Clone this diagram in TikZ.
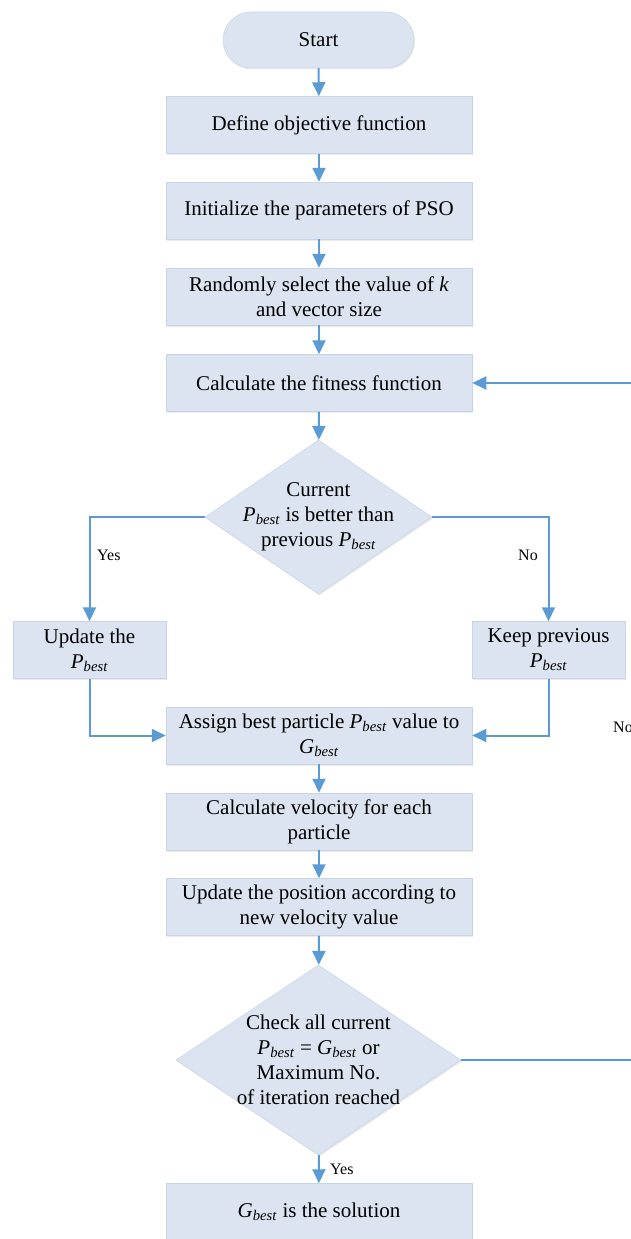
\documentclass[tikz,border=0pt]{standalone}
\usepackage{fontspec}
\setmainfont{Liberation Serif}
\usetikzlibrary{shapes.geometric,arrows.meta,shadows}
\definecolor{boxfill}{RGB}{219,228,240}
\definecolor{boxedge}{RGB}{200,212,230}
\definecolor{lineblue}{RGB}{91,155,213}
\newcommand\Pb{\textit{P}\textsubscript{\textit{best}}}
\newcommand\Gb{\textit{G}\textsubscript{\textit{best}}}
\begin{document}
\begin{tikzpicture}[x=1pt,y=-1pt,
  every node/.style={font=\fontsize{21}{25}\selectfont},
  proc/.style={rectangle,fill=boxfill,draw=boxedge,line width=0.5pt,
    minimum width=306pt,minimum height=57pt,inner sep=2pt,align=center,
    drop shadow={shadow xshift=1pt,shadow yshift=-1.5pt,fill=black!20,opacity=0.4}},
  sproc/.style={proc,minimum width=153pt},
  term/.style={proc,minimum width=191pt,minimum height=56pt,rounded corners=28pt},
  dia/.style={diamond,fill=boxfill,draw=boxedge,line width=0.5pt,inner sep=0pt,
    drop shadow={shadow xshift=1pt,shadow yshift=-1.5pt,fill=black!20,opacity=0.4}},
  dtext/.style={align=center,inner sep=0pt},
  lab/.style={font=\fontsize{16}{18}\selectfont,inner sep=0pt},
  conn/.style={draw=lineblue,line width=2pt,-{Triangle[width=13pt,length=14pt]}},
  plain/.style={draw=lineblue,line width=2pt}]
\useasboundingbox (0,0) rectangle (631,1239);
\clip (0,0) rectangle (631,1239);

\node[term] (start) at (318.5,40) {Start};
\node[proc] (def) at (319,125) {Define objective function};
\node[proc] (init) at (319,210.5) {Initialize the parameters of PSO};
\node[proc] (rand) at (319,296.5) {Randomly select the value of \textit{k}\\and vector size};
\node[proc] (calc) at (319,383) {Calculate the fitness function};
\node[dia,minimum width=227pt,minimum height=154pt] (d1) at (318.5,517) {};
\node[dtext] (d1t) at (d1) {Current\\\Pb{} is better than\\previous \Pb};
\node[sproc] (upd) at (89.5,650) {Update the\\\Pb};
\node[sproc] (keep) at (548.5,650) {Keep previous\\\Pb};
\node[proc] (assign) at (319,735.5) {Assign best particle \Pb{} value to\\\Gb};
\node[proc] (vel) at (319,821.5) {Calculate velocity for each\\particle};
\node[proc] (pos) at (319,907) {Update the position according to\\new velocity value};
\node[dia,minimum width=285pt,minimum height=190pt] (d2) at (318.5,1060) {};
\node[dtext] (d2t) at (d2) {Check all current\\\Pb{} = \Gb{} or\\Maximum No.\\of iteration reached};
\node[proc] (sol) at (319,1212) {\Gb{} is the solution};

\coordinate (r2) at (645,1060);
\coordinate (r1) at (645,383);

\draw[conn] (start) -- (def);
\draw[conn] (def) -- (init);
\draw[conn] (init) -- (rand);
\draw[conn] (rand) -- (calc);
\draw[conn] (calc) -- (d1);
\draw[conn] (d1.west) -| (upd.north);
\draw[conn] (d1.east) -| (keep.north);
\draw[conn] (upd.south) |- (assign.west);
\draw[conn] (keep.south) |- (assign.east);
\draw[conn] (assign) -- (vel);
\draw[conn] (vel) -- (pos);
\draw[conn] (pos) -- (d2);
\draw[conn] (d2) -- (sol);
\draw[conn] (d2.east) -- (r2) -- (r1) -- (calc.east);

\node[lab,anchor=west] (yes1) at (97,555) {Yes};
\node[lab] (no1) at (528,555) {No};
\node[lab,anchor=west] (no2) at (613,727) {No};
\node[lab,anchor=west] (yes2) at (330,1169) {Yes};
\end{tikzpicture}
\end{document}
